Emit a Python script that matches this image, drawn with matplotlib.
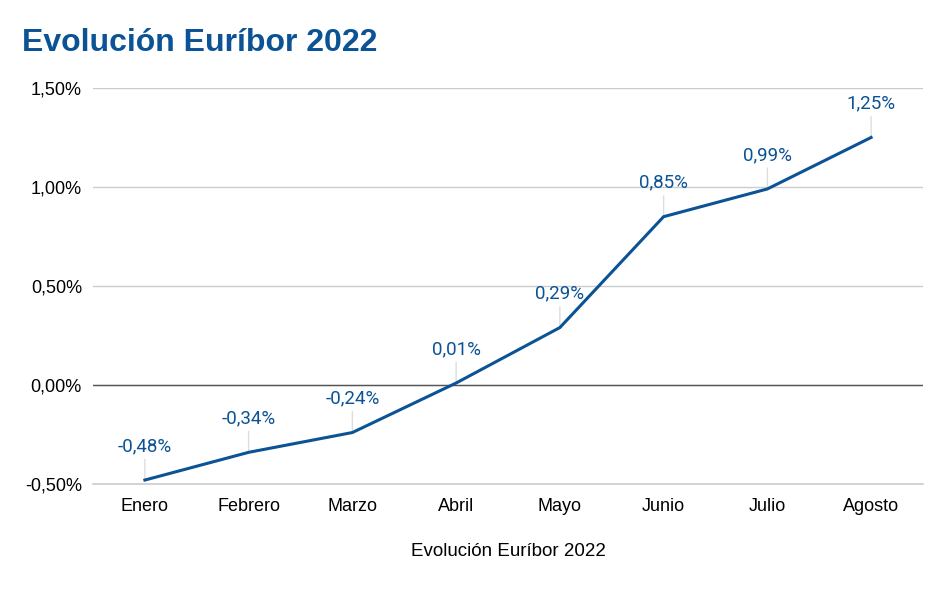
import matplotlib.pyplot as plt

# Euribor monthly values (%)
meses = ['Enero', 'Febrero', 'Marzo', 'Abril', 'Mayo', 'Junio', 'Julio', 'Agosto']
euribor = [-0.48, -0.34, -0.24, 0.01, 0.29, 0.85, 0.99, 1.25]
yticks = [-0.5, 0.0, 0.5, 1.0, 1.5]

azul = '#0b5394'

fig = plt.figure(figsize=(9.52, 5.92), dpi=100)
ax = fig.add_axes([0.0977, 0.1824, 0.8718, 0.669])

x = list(range(len(meses)))
ax.plot(x, euribor, color=azul, linewidth=2.2, zorder=3)

# data labels with thin leader lines
for xi, v in zip(x, euribor):
    ax.annotate(f'{v:.2f}%'.replace('.', ','), xy=(xi, v), xytext=(0, 24.5),
                textcoords='offset points', ha='center', va='center',
                fontsize=13.5, color=azul, family=['Roboto', 'DejaVu Sans'],
                zorder=2.5,
                arrowprops=dict(arrowstyle='-', color='#dddddd', lw=1,
                                shrinkA=1, shrinkB=0))

ax.set_xlim(-0.5, len(meses) - 0.5)
ax.set_ylim(-0.5, 1.5)
ax.set_xticks(x)
ax.set_xticklabels(meses, family=['Liberation Sans'], fontsize=13)
ax.set_yticks(yticks)
ax.set_yticklabels([f'{t:.2f}%'.replace('.', ',') for t in yticks],
                   family=['Liberation Sans'], fontsize=13)
ax.tick_params(length=0, pad=8)
ax.tick_params(axis='x', pad=10)

ax.grid(axis='y', color='#cccccc', linewidth=1)
ax.axhline(-0.5, color='#cccccc', linewidth=1.2, clip_on=False)
ax.axhline(0, color='#555555', linewidth=1, zorder=2)
for s in ax.spines.values():
    s.set_visible(False)

ax.set_xlabel('Evolución Euríbor 2022', family=['Liberation Sans'],
              fontsize=13.5, labelpad=20)

fig.text(0.023, 0.928, 'Evolución Euríbor 2022', color=azul, fontsize=23,
         fontweight='bold', family=['Liberation Sans'], va='center')

fig.savefig('out.png', dpi=100)
